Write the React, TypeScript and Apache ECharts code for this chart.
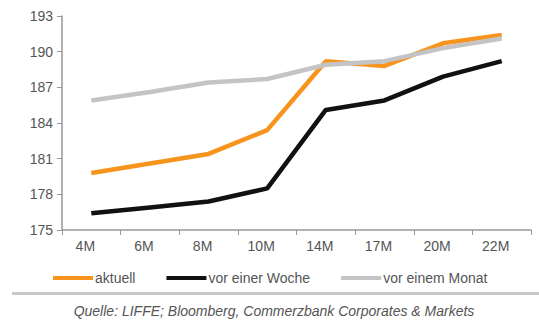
import React, { useEffect, useRef } from "react";
import * as echarts from "echarts";

const categories = ["4M", "6M", "8M", "10M", "14M", "17M", "20M", "22M"];
const aktuell = [179.8, 180.6, 181.4, 183.4, 189.2, 188.8, 190.7, 191.4];
const vorEinerWoche = [176.4, 176.9, 177.4, 178.5, 185.1, 185.9, 187.9, 189.2];
const vorEinemMonat = [185.9, 186.6, 187.4, 187.7, 188.9, 189.2, 190.3, 191.1];
const seriesNames = ["aktuell", "vor einer Woche", "vor einem Monat"];
const source = "Quelle: LIFFE; Bloomberg, Commerzbank Corporates & Markets";

const FONT = "'Liberation Sans', Arial, sans-serif";

export default function App() {
  const ref = useRef<HTMLDivElement>(null);
  useEffect(() => {
    if (!ref.current) return;
    const chart = echarts.init(ref.current, null, { renderer: "svg" });
    const mk = (name: string, data: number[], color: string) => ({
      name,
      type: "line",
      data,
      symbol: "none",
      lineStyle: { color, width: 4.5 },
      itemStyle: { color },
    });
    chart.setOption({
      animation: false,
      backgroundColor: "#fff",
      textStyle: { fontFamily: FONT },
      grid: { left: 62, right: 8, top: 16, bottom: 92 },
      xAxis: {
        type: "category",
        data: categories,
        boundaryGap: true,
        axisLine: { lineStyle: { color: "#999", width: 1.5 } },
        axisTick: { show: true, length: 5, lineStyle: { color: "#999" } },
        axisLabel: {
          color: "#555",
          fontSize: 14,
          margin: 9,
          fontFamily: FONT,
          padding: [0, 12, 0, 0],
        },
      },
      yAxis: {
        type: "value",
        min: 175,
        max: 193,
        interval: 3,
        axisLine: { show: true, lineStyle: { color: "#999", width: 1.5 } },
        axisTick: { show: true, length: 5, lineStyle: { color: "#999" } },
        splitLine: { show: false },
        axisLabel: { color: "#555", fontSize: 14, margin: 9, fontFamily: FONT },
      },
      legend: {
        left: 48,
        top: 266,
        itemGap: 31,
        itemWidth: 40,
        itemHeight: 4,
        icon: "rect",
        textStyle: { color: "#555", fontSize: 14, fontFamily: FONT, padding: [0, 0, 0, -3] },
        data: seriesNames,
      },
      series: [
        mk(seriesNames[0], aktuell, "#F7941D"),
        mk(seriesNames[1], vorEinerWoche, "#111111"),
        mk(seriesNames[2], vorEinemMonat, "#C4C4C6"),
      ],
      graphic: [
        {
          type: "rect",
          shape: { x: 12, y: 292, width: 527, height: 3 },
          style: { fill: "#C8C8C8" },
        },
        {
          type: "text",
          x: 274,
          y: 304,
          style: {
            text: source,
            fill: "#555",
            font: `italic 14px ${FONT}`,
            align: "center",
            verticalAlign: "top",
          },
        },
      ],
    });
    return () => chart.dispose();
  }, []);
  return (
    <div
      ref={ref}
      style={{ position: "absolute", left: 0, top: 0, width: 539, height: 322 }}
    />
  );
}
